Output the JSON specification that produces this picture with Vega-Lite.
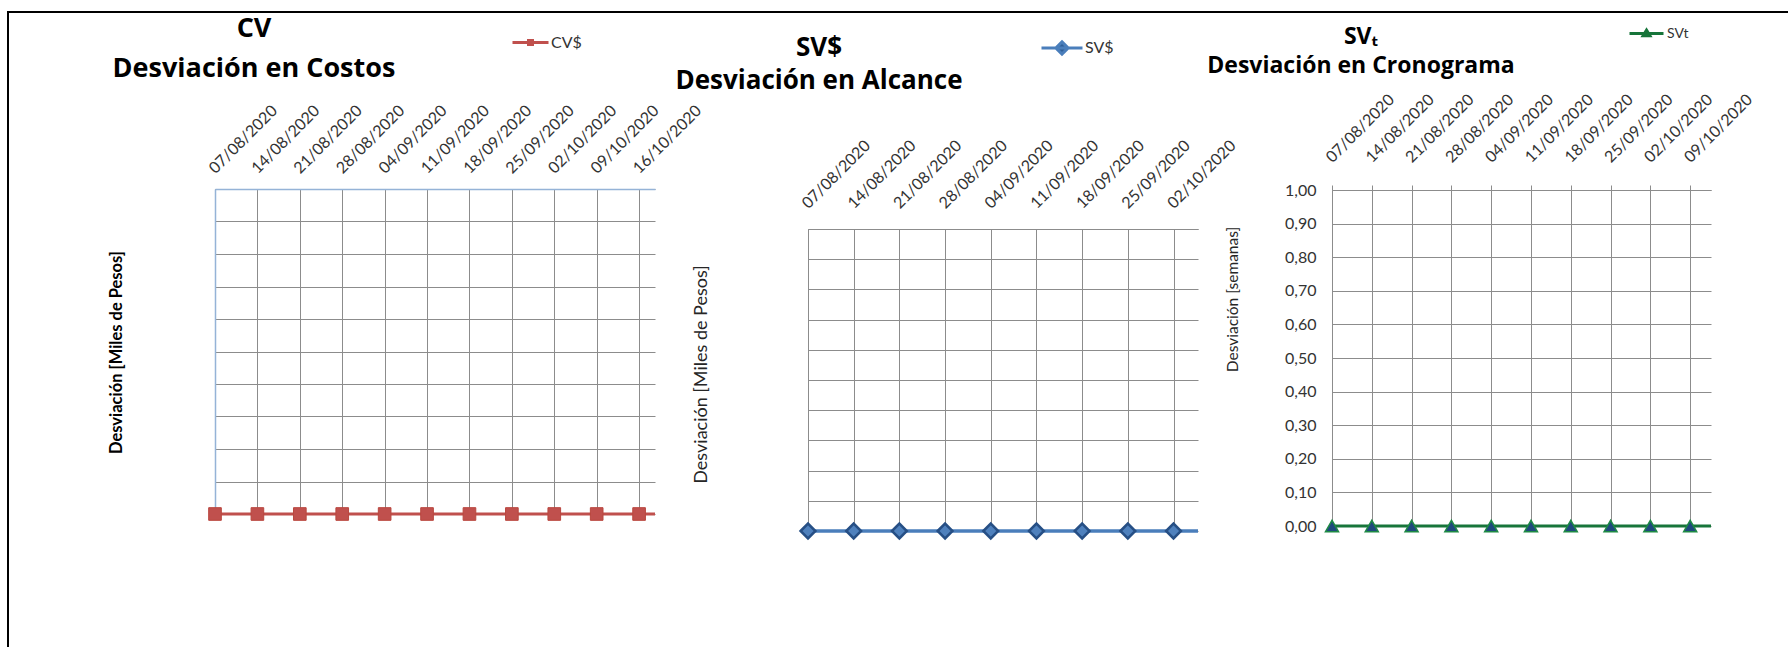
{
  "$schema": "https://vega.github.io/schema/vega-lite/v6.json",
  "padding": {"left": 7, "top": 11, "right": 0, "bottom": 0},
  "background": "white",
  "config": {
    "font": "Lato",
    "view": {"stroke": null},
    "locale": {"number": {"decimal": ",", "thousands": ".", "grouping": [3], "currency": ["$", ""]}},
    "axis": {"labelFont": "Lato", "titleFont": "Lato", "gridColor": "#8C8C8C", "gridOpacity": 1, "gridWidth": 1, "domainColor": "#8C8C8C", "domainWidth": 1, "tickColor": "#8C8C8C", "labelColor": "#333333", "titleColor": "#262626", "labelOverlap": false, "labelFlush": false, "labelBound": false},
    "title": {"font": "Open Sans", "subtitleFont": "Open Sans", "color": "black", "subtitleColor": "black", "fontWeight": "bold", "subtitleFontWeight": "bold"},
    "legend": {"labelFont": "Lato", "padding": 0, "labelColor": "#333333"}
  },
  "datasets": {
    "datos": [
      {"fecha": "2020-08-07", "CV": 0, "SV": 0, "SVt": 0},
      {"fecha": "2020-08-14", "CV": 0, "SV": 0, "SVt": 0},
      {"fecha": "2020-08-21", "CV": 0, "SV": 0, "SVt": 0},
      {"fecha": "2020-08-28", "CV": 0, "SV": 0, "SVt": 0},
      {"fecha": "2020-09-04", "CV": 0, "SV": 0, "SVt": 0},
      {"fecha": "2020-09-11", "CV": 0, "SV": 0, "SVt": 0},
      {"fecha": "2020-09-18", "CV": 0, "SV": 0, "SVt": 0},
      {"fecha": "2020-09-25", "CV": 0, "SV": 0, "SVt": 0},
      {"fecha": "2020-10-02", "CV": 0, "SV": 0, "SVt": 0},
      {"fecha": "2020-10-09", "CV": 0, "SV": 0, "SVt": 0},
      {"fecha": "2020-10-16", "CV": 0, "SV": 0, "SVt": 0},
      {"fecha": "2020-10-23", "CV": 0, "SV": 0, "SVt": 0}
    ]
  },
  "spacing": 0,
  "bounds": "flush",
  "resolve": {"scale": {"color": "independent"}, "legend": {"color": "independent"}},
  "vconcat": [
    {"width": 1779, "height": 0.001, "data": {"values": []}, "mark": {"type": "point", "opacity": 0}, "encoding": {}, "view": {"stroke": "black", "strokeWidth": 2}},
    {
      "spacing": 0,
      "bounds": "flush",
      "resolve": {"scale": {"color": "independent"}, "legend": {"color": "independent"}},
      "hconcat": [
        {"width": 0.001, "height": 634, "data": {"values": []}, "mark": {"type": "point", "opacity": 0}, "encoding": {}, "view": {"stroke": "black", "strokeWidth": 2}},
        {"width": 206, "height": 1, "data": {"values": []}, "mark": {"type": "point", "opacity": 0}, "encoding": {}},
        {
          "spacing": 0,
          "bounds": "flush",
          "resolve": {"scale": {"color": "independent"}, "legend": {"color": "independent"}},
          "vconcat": [
            {"width": 440, "height": 176, "data": {"values": []}, "mark": {"type": "point", "opacity": 0}, "encoding": {}},
            {
              "width": 440, "height": 325,
              "data": {"name": "datos", "format": {"parse": {"fecha": "date"}}},
              "title": {"text": "CV", "subtitle": "Desviación en Costos", "anchor": "start", "align": "center", "frame": "group", "dx": 39, "dy": 70, "fontSize": 27, "subtitleFontSize": 27, "offset": 10, "subtitlePadding": 13},
              "encoding": {
                "x": {"field": "fecha", "type": "temporal",
                  "scale": {"type": "utc", "nice": false, "clamp": true, "domain": [{"year": 2020, "month": 8, "date": 7, "utc": true}, {"year": 2020, "month": 10, "date": 18, "hours": 15, "utc": true}]},
                  "axis": {"orient": "top", "title": null, "format": "%d/%m/%Y", "labelAngle": -45, "labelBaseline": "alphabetic", "labelAlign": "left", "labelFontSize": 16, "labelPadding": 15, "ticks": false, "tickSize": 0, "grid": true, "domain": true, "domainColor": "#95B3D7", "domainWidth": 1.5,
                    "values": [
                      {"year": 2020, "month": 8, "date": 7, "utc": true}, {"year": 2020, "month": 8, "date": 14, "utc": true}, {"year": 2020, "month": 8, "date": 21, "utc": true}, {"year": 2020, "month": 8, "date": 28, "utc": true},
                      {"year": 2020, "month": 9, "date": 4, "utc": true}, {"year": 2020, "month": 9, "date": 11, "utc": true}, {"year": 2020, "month": 9, "date": 18, "utc": true}, {"year": 2020, "month": 9, "date": 25, "utc": true},
                      {"year": 2020, "month": 10, "date": 2, "utc": true}, {"year": 2020, "month": 10, "date": 9, "utc": true}, {"year": 2020, "month": 10, "date": 16, "utc": true}
                    ]}},
                "y": {"field": "CV", "type": "quantitative",
                  "scale": {"domain": [0, 1], "nice": false},
                  "axis": {"orient": "left", "labels": false, "ticks": false, "grid": true, "values": [0, 0.1, 0.2, 0.3, 0.4, 0.5, 0.6, 0.7, 0.8, 0.9, 1], "domain": true, "domainColor": "#95B3D7", "domainWidth": 1.5,
                    "title": "Desviación [Miles de Pesos]", "titleFontWeight": "bold", "titleFontSize": 16.5, "titleColor": "black", "titleAngle": -90, "titleAlign": "center", "titleBaseline": "middle", "titleX": -99, "titleY": 163}}
              },
              "layer": [
                {"mark": {"type": "line", "strokeWidth": 3},
                  "encoding": {"color": {"datum": "CV$", "scale": {"range": ["#C0504D"]},
                    "legend": {"orient": "none", "legendX": 296, "legendY": -166, "title": null, "symbolType": "M-1,0H1M-0.11,-0.11H0.11V0.11H-0.11Z", "symbolSize": 1296, "symbolStrokeWidth": 3, "symbolFillColor": "#C0504D", "symbolStrokeColor": "#C0504D", "labelFontSize": 16, "labelOffset": 1}}}},
                {"transform": [{"filter": {"field": "fecha", "lte": {"year": 2020, "month": 10, "date": 16, "utc": true}}}],
                  "mark": {"type": "point", "shape": "square", "filled": true, "size": 160, "color": "#C0504D", "opacity": 1, "stroke": "#B9473F", "strokeWidth": 1}}
              ]
            }
          ]
        },
        {"width": 593, "height": 1, "data": {"values": []}, "mark": {"type": "point", "opacity": 0}, "encoding": {}},
        {
          "spacing": 0,
          "bounds": "flush",
          "resolve": {"scale": {"color": "independent"}, "legend": {"color": "independent"}},
          "vconcat": [
            {"width": 390, "height": 216, "data": {"values": []}, "mark": {"type": "point", "opacity": 0}, "encoding": {}},
            {
              "width": 390, "height": 302,
              "data": {"name": "datos", "format": {"parse": {"fecha": "date"}}},
              "title": {"text": "SV$", "subtitle": "Desviación en Alcance", "anchor": "start", "align": "center", "frame": "group", "dx": 11, "dy": 78, "fontSize": 26, "subtitleFontSize": 26, "offset": 10, "subtitlePadding": 7},
              "encoding": {
                "x": {"field": "fecha", "type": "temporal",
                  "scale": {"type": "utc", "nice": false, "clamp": true, "domain": [{"year": 2020, "month": 8, "date": 7, "utc": true}, {"year": 2020, "month": 10, "date": 5, "hours": 18, "utc": true}]},
                  "axis": {"orient": "top", "title": null, "format": "%d/%m/%Y", "labelAngle": -45, "labelBaseline": "alphabetic", "labelAlign": "left", "labelFontSize": 16, "labelPadding": 20, "ticks": false, "tickSize": 0, "grid": true, "domain": true,
                    "values": [
                      {"year": 2020, "month": 8, "date": 7, "utc": true}, {"year": 2020, "month": 8, "date": 14, "utc": true}, {"year": 2020, "month": 8, "date": 21, "utc": true}, {"year": 2020, "month": 8, "date": 28, "utc": true},
                      {"year": 2020, "month": 9, "date": 4, "utc": true}, {"year": 2020, "month": 9, "date": 11, "utc": true}, {"year": 2020, "month": 9, "date": 18, "utc": true}, {"year": 2020, "month": 9, "date": 25, "utc": true},
                      {"year": 2020, "month": 10, "date": 2, "utc": true}
                    ]}},
                "y": {"field": "SV", "type": "quantitative",
                  "scale": {"domain": [0, 1], "nice": false},
                  "axis": {"orient": "left", "labels": false, "ticks": false, "grid": true, "values": [0, 0.1, 0.2, 0.3, 0.4, 0.5, 0.6, 0.7, 0.8, 0.9, 1], "domain": true,
                    "title": "Desviación [Miles de Pesos]", "titleFontWeight": "normal", "titleFontSize": 18, "titleAngle": -90, "titleAlign": "center", "titleBaseline": "middle", "titleX": -107, "titleY": 145}}
              },
              "layer": [
                {"mark": {"type": "line", "strokeWidth": 3.5},
                  "encoding": {"color": {"datum": "SV$", "scale": {"range": ["#4A7EBB"]},
                    "legend": {"orient": "none", "legendX": 232, "legendY": -203, "title": null, "symbolType": "M-1,0H1M0,-0.3L0.3,0L0,0.3L-0.3,0Z", "symbolSize": 1681, "symbolStrokeWidth": 3, "symbolFillColor": "#2F5F98", "symbolStrokeColor": "#4A7EBB", "labelFontSize": 16, "labelOffset": 1}}}},
                {"transform": [{"filter": {"field": "fecha", "lte": {"year": 2020, "month": 10, "date": 2, "utc": true}}}],
                  "mark": {"type": "point", "shape": "diamond", "filled": true, "size": 220, "color": "#4F81BD", "opacity": 1, "stroke": "#264F85", "strokeWidth": 2.5}}
              ]
            }
          ]
        },
        {"width": 524, "height": 1, "data": {"values": []}, "mark": {"type": "point", "opacity": 0}, "encoding": {}},
        {
          "spacing": 0,
          "bounds": "flush",
          "resolve": {"scale": {"color": "independent"}, "legend": {"color": "independent"}},
          "vconcat": [
            {"width": 379, "height": 177, "data": {"values": []}, "mark": {"type": "point", "opacity": 0}, "encoding": {}},
            {
              "width": 379, "height": 336,
              "data": {"name": "datos", "format": {"parse": {"fecha": "date"}}},
              "title": {"text": "SVₜ", "subtitle": "Desviación en Cronograma", "anchor": "start", "align": "center", "frame": "group", "dx": 29, "dy": 73, "fontSize": 23, "subtitleFontSize": 23, "offset": 10, "subtitlePadding": 6},
              "encoding": {
                "x": {"field": "fecha", "type": "temporal",
                  "scale": {"type": "utc", "nice": false, "clamp": true, "domain": [{"year": 2020, "month": 8, "date": 7, "utc": true}, {"year": 2020, "month": 10, "date": 12, "hours": 16, "utc": true}]},
                  "axis": {"orient": "top", "title": null, "format": "%d/%m/%Y", "labelAngle": -45, "labelBaseline": "alphabetic", "labelAlign": "left", "labelFontSize": 16, "labelPadding": 22, "ticks": true, "tickSize": 5, "grid": true, "domain": true,
                    "values": [
                      {"year": 2020, "month": 8, "date": 7, "utc": true}, {"year": 2020, "month": 8, "date": 14, "utc": true}, {"year": 2020, "month": 8, "date": 21, "utc": true}, {"year": 2020, "month": 8, "date": 28, "utc": true},
                      {"year": 2020, "month": 9, "date": 4, "utc": true}, {"year": 2020, "month": 9, "date": 11, "utc": true}, {"year": 2020, "month": 9, "date": 18, "utc": true}, {"year": 2020, "month": 9, "date": 25, "utc": true},
                      {"year": 2020, "month": 10, "date": 2, "utc": true}, {"year": 2020, "month": 10, "date": 9, "utc": true}
                    ]}},
                "y": {"field": "SVt", "type": "quantitative",
                  "scale": {"domain": [0, 1], "nice": false},
                  "axis": {"orient": "left", "labels": true, "format": ".2f", "labelFontSize": 16, "labelPadding": 16, "ticks": false, "grid": true, "values": [0, 0.1, 0.2, 0.3, 0.4, 0.5, 0.6, 0.7, 0.8, 0.9, 1], "domain": true,
                    "title": "Desviación [semanas]", "titleFontWeight": "normal", "titleFontSize": 15.5, "titleAngle": -90, "titleAlign": "center", "titleBaseline": "middle", "titleX": -100, "titleY": 109}}
              },
              "layer": [
                {"mark": {"type": "line", "strokeWidth": 3},
                  "encoding": {"color": {"datum": "SVt", "scale": {"range": ["#17753A"]},
                    "legend": {"orient": "none", "legendX": 296, "legendY": -175, "title": null, "symbolType": "M-1,0H1M0,-0.2L0.2,0.13L-0.2,0.13Z", "symbolSize": 1156, "symbolStrokeWidth": 3, "symbolFillColor": "#1F497D", "symbolStrokeColor": "#17753A", "labelFontSize": 14, "labelOffset": 2}}}},
                {"transform": [{"filter": {"field": "fecha", "lte": {"year": 2020, "month": 10, "date": 9, "utc": true}}}],
                  "mark": {"type": "point", "shape": "triangle-up", "filled": true, "size": 170, "color": "#1F497D", "opacity": 1, "stroke": "#1E8A45", "strokeWidth": 1.5}}
              ]
            }
          ]
        }
      ]
    }
  ]
}
